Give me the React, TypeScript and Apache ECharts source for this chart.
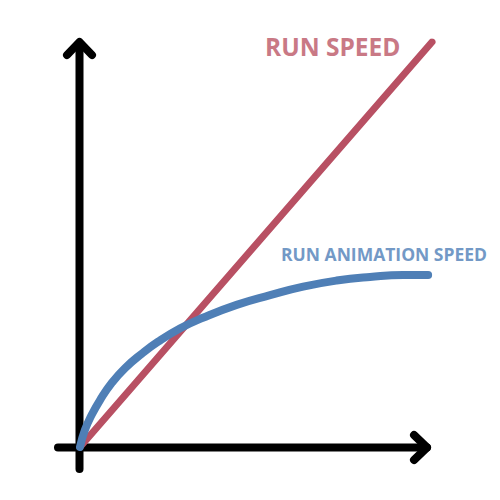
import React, { useEffect, useRef } from 'react';
import * as echarts from 'echarts';

// 달리기 속도 (직선)
const runSpeedX = [0, 100];
const runSpeedY = [0, 100];

// 달리기 애니메이션 속도 (포화 곡선)
const animSpeedX = [0, 1.4, 3.3, 5.7, 9.0, 12.8, 17.5, 22.2, 28.5, 34.9, 44.5, 54.0, 63.4, 72.9, 82.4, 91.8, 98.9];
const animSpeedY = [0, 4.2, 7.9, 11.6, 15.8, 19.5, 23.0, 26.0, 29.3, 31.9, 35.1, 37.5, 39.6, 41.1, 42.0, 42.5, 42.5];

const labels = ['RUN SPEED', 'RUN ANIMATION SPEED'];

const zip = (xs: number[], ys: number[]) => xs.map((x, i) => [x, ys[i]]);

function App() {
  const chartRef = useRef<HTMLDivElement | null>(null);

  useEffect(() => {
    document.body.style.margin = '0';
    if (!chartRef.current) return undefined;

    const myChart = echarts.init(chartRef.current, null, { renderer: 'svg' });

    const axisStyle = {
      stroke: '#000000',
      lineWidth: 8,
      lineCap: 'round',
      lineJoin: 'round',
      fill: null,
    };

    const option = {
      animation: false,
      backgroundColor: '#ffffff',
      grid: { left: 80, right: 68, top: 42, bottom: 53 },
      xAxis: { type: 'value', min: 0, max: 100, show: false },
      yAxis: { type: 'value', min: 0, max: 100, show: false },
      graphic: [
        // 세로축 + 화살표
        { type: 'line', shape: { x1: 79.5, y1: 43, x2: 79.5, y2: 469 }, style: axisStyle, z: 1 },
        { type: 'polyline', shape: { points: [[67, 55], [79.5, 42], [92, 55]] }, style: axisStyle, z: 1 },
        // 가로축 + 화살표
        { type: 'line', shape: { x1: 58, y1: 447.5, x2: 427, y2: 447.5 }, style: axisStyle, z: 1 },
        { type: 'polyline', shape: { points: [[414, 435], [427, 447.5], [414, 460]] }, style: axisStyle, z: 1 },
        {
          type: 'text',
          x: 265,
          y: 34,
          style: {
            text: labels[0],
            fill: '#C97985',
            font: 'bold 24.5px "Open Sans", sans-serif',
          },
        },
        {
          type: 'text',
          x: 281,
          y: 245,
          style: {
            text: labels[1],
            fill: '#7399C6',
            font: 'bold 17.5px "Open Sans", sans-serif',
          },
        },
      ],
      series: [
        {
          name: labels[0],
          type: 'line',
          data: zip(runSpeedX, runSpeedY),
          showSymbol: false,
          z: 3,
          lineStyle: { color: '#B85063', width: 7, cap: 'round' },
        },
        {
          name: labels[1],
          type: 'line',
          data: zip(animSpeedX, animSpeedY),
          smooth: true,
          showSymbol: false,
          z: 4,
          lineStyle: { color: '#4F7FB6', width: 8, cap: 'round', join: 'round' },
        },
      ],
    };

    myChart.setOption(option);

    return () => {
      myChart.dispose();
    };
  }, []);

  return <div ref={chartRef} style={{ width: '500px', height: '500px' }} />;
}

export default App;
